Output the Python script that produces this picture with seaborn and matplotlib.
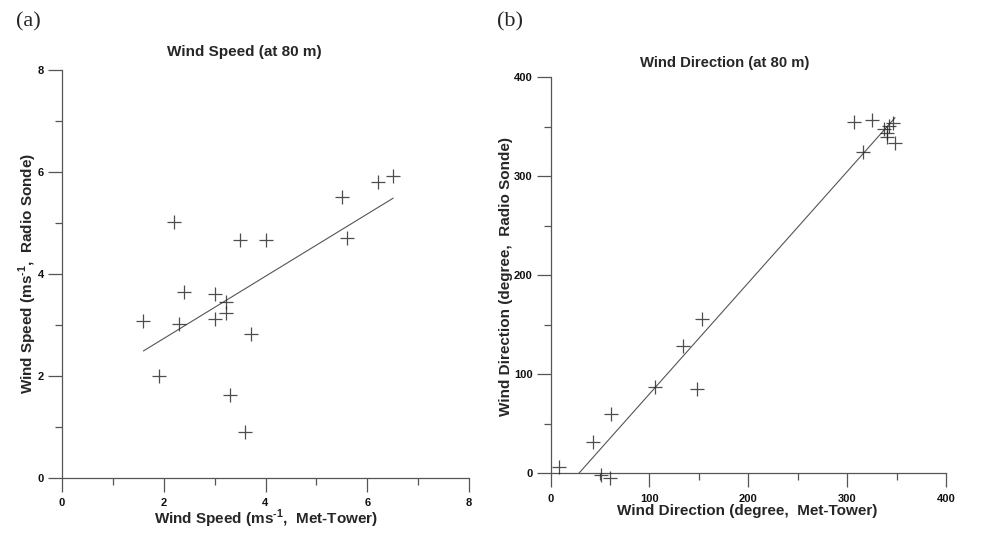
import numpy as np
import pandas as pd
import matplotlib
matplotlib.use("Agg")
import matplotlib.pyplot as plt
import seaborn as sns
from matplotlib.ticker import MultipleLocator

# ---- data ----
speed_met = [1.60, 2.21, 1.91, 2.40, 2.30, 3.00, 3.00, 3.22, 3.22, 3.50, 4.00, 3.71,
             3.30, 3.60, 5.51, 5.61, 6.21, 6.51]
speed_sonde = [3.08, 5.02, 2.00, 3.64, 3.02, 3.61, 3.12, 3.44, 3.22, 4.67, 4.67, 2.82,
               1.61, 0.89, 5.50, 4.70, 5.80, 5.91]

dir_met = [9.1, 43.0, 61.6, 50.8, 59.9, 105.6, 133.7, 153.0, 148.6, 307.0, 325.0, 316.4,
           337.4, 342.5, 340.8, 340.8, 346.5, 348.5]
dir_sonde = [6.8, 32.0, 59.6, -1.7, -4.4, 87.5, 128.9, 155.9, 84.8, 354.5, 356.2, 324.2,
             347.5, 350.8, 343.4, 339.0, 353.5, 333.3]

speed_ticks = [0, 2, 4, 6, 8]
dir_ticks = [0, 100, 200, 300, 400]

df_speed = pd.DataFrame({"met": speed_met, "sonde": speed_sonde})
df_dir = pd.DataFrame({"met": dir_met, "sonde": dir_sonde})

sns.set_theme(style="white")
plt.rcParams["font.family"] = ["Liberation Sans", "DejaVu Sans"]
plt.rcParams["mathtext.fontset"] = "custom"
plt.rcParams["mathtext.bf"] = "Liberation Sans:bold"
plt.rcParams["mathtext.rm"] = "Liberation Sans:bold"

W, H = 984, 540
fig = plt.figure(figsize=(W / 100, H / 100), dpi=100)
fig.patch.set_facecolor("white")


def px_axes(x0, x1, y0, y1):
    return fig.add_axes([x0 / W, 1 - y1 / H, (x1 - x0) / W, (y1 - y0) / H])


A1 = (62, 469, 70, 477.5)
A2 = (550.5, 946, 77, 473.3)
ax1 = px_axes(*A1)
ax2 = px_axes(*A2)

ln = dict(color="#555555", linewidth=0.8)
sc = dict(s=105, linewidths=0.9, color="#222222", clip_on=False, zorder=3)

sns.regplot(data=df_speed, x="met", y="sonde", ax=ax1, ci=None, marker="+",
            scatter_kws=sc, line_kws=ln, truncate=True)
sns.regplot(data=df_dir, x="met", y="sonde", ax=ax2, ci=None, marker="+",
            scatter_kws=sc, line_kws=ln, truncate=True)

for ax, ticks, minor in [(ax1, speed_ticks, 1), (ax2, dir_ticks, 50)]:
    ax.set_xlim(ticks[0], ticks[-1])
    ax.set_ylim(ticks[0], ticks[-1])
    ax.set_xticks(ticks)
    ax.set_yticks(ticks)
    ax.xaxis.set_minor_locator(MultipleLocator(minor))
    ax.yaxis.set_minor_locator(MultipleLocator(minor))
    ax.set_xticklabels([str(t) for t in ticks], fontweight="bold", fontsize=8)
    ax.set_yticklabels([str(t) for t in ticks], fontweight="bold", fontsize=8)
    for s in ["top", "right"]:
        ax.spines[s].set_visible(False)
    for s in ["left", "bottom"]:
        ax.spines[s].set_color("#555555")
        ax.spines[s].set_linewidth(0.9)
    ax.tick_params(which="major", direction="out", length=10, width=0.9, color="#555555",
                   pad=3, left=True, bottom=True, labelcolor="#111111")
    ax.tick_params(which="minor", direction="out", length=5, width=0.9, color="#555555",
                   left=True, bottom=True)
    ax.tick_params(axis="x", which="major", pad=5)
    ax.set_facecolor("white")
    ax.grid(False)

LBL = dict(fontsize=11, fontweight="bold")
ax1.set_xlabel(r"Wind Speed (ms$^{\text{-1}}$,  Met-Tower)", **LBL)
ax1.set_ylabel(r"Wind Speed (ms$^{\text{-1}}$,  Radio Sonde)", **LBL)
ax2.set_xlabel("Wind Direction (degree,  Met-Tower)", **LBL)
ax2.set_ylabel("Wind Direction (degree,  Radio Sonde)", **LBL)


def set_xlabel_px(ax, box, cx, cy):
    x0, x1, y0, y1 = box
    ax.xaxis.set_label_coords((cx - x0) / (x1 - x0), (y1 - cy) / (y1 - y0))
    ax.xaxis.label.set_verticalalignment("center")


def set_ylabel_px(ax, box, cx, cy):
    x0, x1, y0, y1 = box
    ax.yaxis.set_label_coords((cx - x0) / (x1 - x0), (y1 - cy) / (y1 - y0))
    ax.yaxis.label.set_verticalalignment("center")


set_xlabel_px(ax1, A1, 266, 519)
set_ylabel_px(ax1, A1, 27.5, 273)
set_xlabel_px(ax2, A2, 747, 511)
set_ylabel_px(ax2, A2, 506, 276)

fig.text(244 / W, 1 - 52 / H, "Wind Speed (at 80 m)", ha="center", va="center",
         fontsize=11, fontweight="bold")
fig.text(725 / W, 1 - 63 / H, "Wind Direction (at 80 m)", ha="center", va="center",
         fontsize=10.7, fontweight="bold")

fig.text(16 / W, 1 - 22 / H, "(a)", ha="left", va="center", fontsize=16,
         family=["Liberation Serif", "DejaVu Serif"])
fig.text(497 / W, 1 - 22 / H, "(b)", ha="left", va="center", fontsize=16,
         family=["Liberation Serif", "DejaVu Serif"])

fig.savefig("out.png", dpi=100, facecolor="white")
